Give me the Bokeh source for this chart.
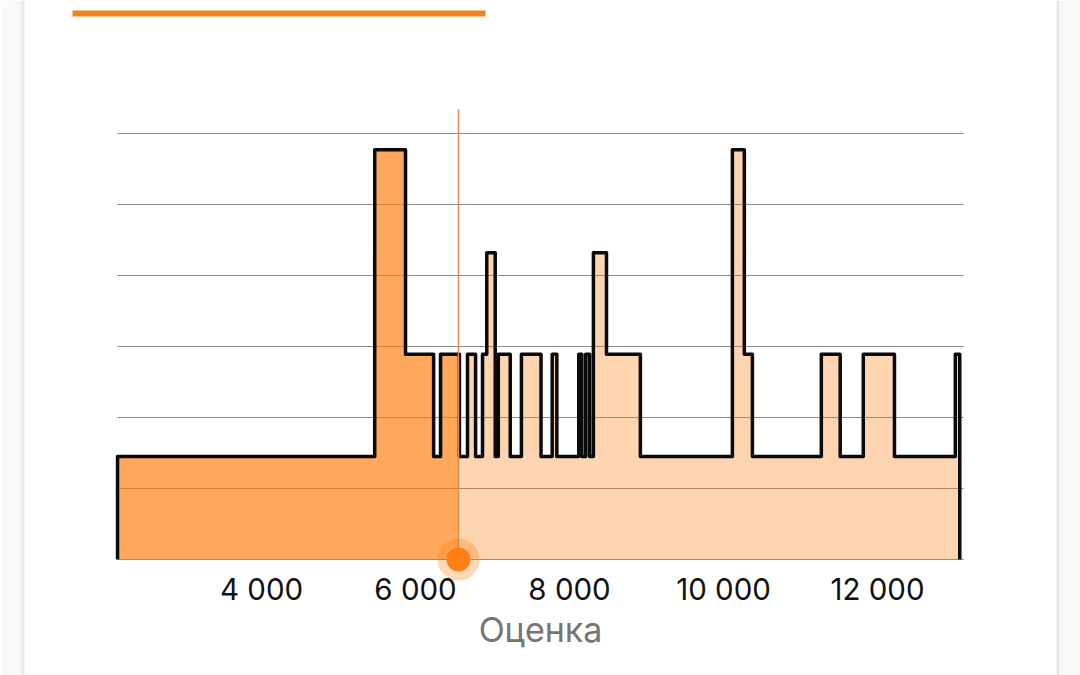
from bokeh.plotting import figure
from bokeh.embed import file_html
from bokeh.resources import INLINE
from bokeh.models import Range1d, FixedTicker, BoxAnnotation

# Score bin edges and the density level of each bin
bin_edges = [2130, 5470, 5870, 6235, 6325, 6570, 6675, 6780, 6870, 6925, 7035, 7075,
             7230, 7375, 7630, 7775, 7835, 8120, 8160, 8210, 8260, 8310, 8480, 8920,
             10115, 10270, 10375, 11270, 11515, 11815, 12220, 13010, 13068]
bin_levels = [1.45, 5.77, 2.89, 1.45, 2.89, 1.45, 2.89, 1.45, 2.89, 4.32, 1.45, 2.89,
              1.45, 2.89, 1.45, 2.89, 1.45, 2.89, 1.45, 2.89, 1.45, 4.32, 2.89, 1.45,
              5.77, 2.89, 1.45, 2.89, 1.45, 2.89, 1.45, 2.89]
marker_score = 6558
tick_values = [4000, 6000, 8000, 10000, 12000]
tick_labels = ["4 000", "6 000", "8 000", "10 000", "12 000"]
grid_values = [0, 1, 2, 3, 4, 5, 6]
grid_start = 2130
grid_end = 13117
axis_title = "Оценка"

FONT = "Inter"
W, H = 1080, 675


def step_path(edges, levels):
    xs, ys = [], []
    for i, level in enumerate(levels):
        xs += [edges[i], edges[i + 1]]
        ys += [level, level]
    return xs, ys


def clip_path(xs, ys, lo, hi):
    out_x, out_y = [], []
    for i in range(0, len(xs), 2):
        a, b = max(xs[i], lo), min(xs[i + 1], hi)
        if a < b:
            out_x += [a, b]
            out_y += [ys[i], ys[i + 1]]
    return out_x, out_y


def screen_box(left, right, top, bottom, color, alpha):
    return BoxAnnotation(left=left, right=right, top=H - top, bottom=H - bottom,
                         left_units="screen", right_units="screen",
                         top_units="screen", bottom_units="screen",
                         fill_color=color, fill_alpha=alpha, line_color=None,
                         level="underlay")


p = figure(width=W, height=H, output_backend="svg", toolbar_location=None,
           x_range=Range1d(610, 14636), y_range=Range1d(-1.634, 7.873),
           min_border_left=0, min_border_right=0, min_border_top=0, min_border_bottom=0)
p.outline_line_color = None
p.background_fill_color = "white"
p.border_fill_color = "white"

# page behind the card, and the card's soft shadow
for left, right, alpha in [(0, 24, 0.025), (19, 24, 0.025), (22, 24, 0.05),
                           (1056, 1080, 0.025), (1056, 1061, 0.025), (1056, 1058, 0.05)]:
    p.add_layout(screen_box(left, right, 0, H, "black", alpha))
p.add_layout(screen_box(72, 485, 10, 16, "#f4801f", 1))

xs, ys = step_path(bin_edges, bin_levels)
lx, ly = clip_path(xs, ys, bin_edges[0], marker_score)
rx, ry = clip_path(xs, ys, marker_score, bin_edges[-1])

p.xgrid.visible = False
p.ygrid.visible = False
p.yaxis.visible = False
p.segment([grid_start] * len(grid_values), grid_values, [grid_end] * len(grid_values), grid_values,
          line_color="#8c8c8c", line_width=1.2)

p.varea(lx, [0] * len(lx), ly, fill_color="#ff7f12", fill_alpha=0.69)
p.varea(rx, [0] * len(rx), ry, fill_color="#ff7f12", fill_alpha=0.33)

p.line([bin_edges[0]] + xs + [bin_edges[-1]], [0] + ys + [0],
       line_color="#0a0a0a", line_width=3.5, line_join="round")

p.segment([marker_score], [0], [marker_score], [6.34], line_color="#e08a45", line_width=1.5)
p.scatter([marker_score], [0], size=42, fill_color="#ff7f12", fill_alpha=0.3, line_color=None)
p.scatter([marker_score], [0], size=24, fill_color="#ff7f12", line_color=None)

ax = p.xaxis[0]
ax.fixed_location = 0
ax.ticker = FixedTicker(ticks=tick_values)
ax.major_label_overrides = dict(zip(tick_values, tick_labels))
ax.axis_line_color = None
ax.major_tick_line_color = None
ax.minor_tick_line_color = None
ax.major_label_text_font = FONT
ax.major_label_text_font_size = "29.5px"
ax.major_label_text_color = "#111111"
ax.major_label_standoff = 6
ax.axis_label = axis_title
ax.axis_label_text_font = FONT
ax.axis_label_text_font_style = "normal"
ax.axis_label_text_font_size = "34px"
ax.axis_label_text_color = "#757575"
ax.axis_label_standoff = -2

open("out.html", "w").write(file_html(p, INLINE))
